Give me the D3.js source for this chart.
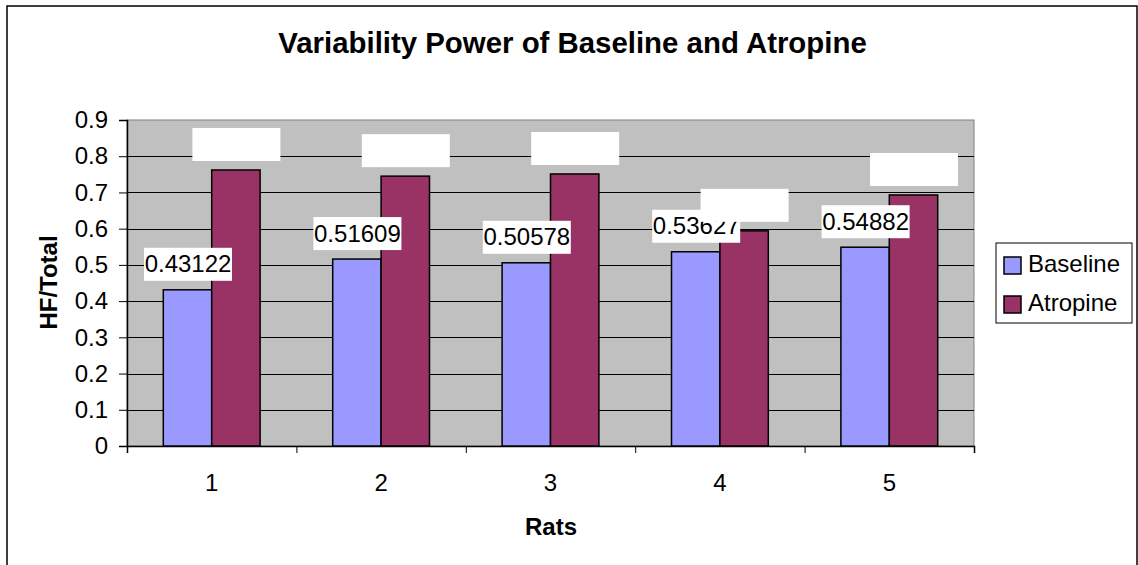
<!DOCTYPE html>
<html>
<head>
<meta charset="utf-8">
<script src="https://cdn.jsdelivr.net/npm/d3@7"></script>
<style>
  body { margin: 0; background: #fff; }
  text { font-family: Arial, "Liberation Sans", sans-serif; fill: #000; }
</style>
</head>
<body>
<div id="chart"></div>
<script>
const categories = ['1', '2', '3', '4', '5'];
const seriesNames = ['Baseline', 'Atropine'];
const baselineValues = [0.43122, 0.51609, 0.50578, 0.53627, 0.54882];
const atropineValues = [0.762, 0.745, 0.751, 0.594, 0.693];
const yTickValues = [0, 0.1, 0.2, 0.3, 0.4, 0.5, 0.6, 0.7, 0.8, 0.9];
const colors = { Baseline: '#9999FF', Atropine: '#993366' };

const W = 1138, H = 565;
const plot = { left: 127, right: 974, top: 120, bottom: 446 };

const svg = d3.select('#chart').append('svg')
    .attr('width', W)
    .attr('height', H);

// outer chart frame
svg.append('rect')
    .attr('x', 7).attr('y', 6)
    .attr('width', 1130).attr('height', 600)
    .attr('fill', '#fff')
    .attr('stroke', '#000')
    .attr('stroke-width', 1.5);

const x = d3.scaleBand()
    .domain(categories)
    .range([plot.left, plot.right])
    .padding(0);

const xSeries = d3.scaleBand()
    .domain(seriesNames)
    .range([0, x.bandwidth()])
    .paddingInner(0)
    .paddingOuter(0.75);

const y = d3.scaleLinear()
    .domain([0, 0.9])
    .range([plot.bottom, plot.top]);

// plot background
svg.append('rect')
    .attr('x', plot.left).attr('y', plot.top)
    .attr('width', plot.right - plot.left)
    .attr('height', plot.bottom - plot.top)
    .attr('fill', '#C0C0C0')
    .attr('stroke', '#808080')
    .attr('stroke-width', 1);

// gridlines
svg.append('g')
    .selectAll('line')
    .data(yTickValues.filter(d => d > 0 && d < 0.9))
    .enter()
    .append('line')
    .attr('x1', plot.left).attr('x2', plot.right)
    .attr('y1', d => Math.round(y(d)) + 0.5)
    .attr('y2', d => Math.round(y(d)) + 0.5)
    .attr('stroke', '#000')
    .attr('stroke-width', 1);

// y axis
const yAxis = svg.append('g')
    .attr('transform', `translate(${plot.left},0)`)
    .call(d3.axisLeft(y)
        .tickValues(yTickValues)
        .tickSize(8)
        .tickPadding(11)
        .tickFormat(d => d === 0 ? '0' : d3.format('.1f')(d)));
yAxis.select('.domain').attr('stroke', '#000').attr('stroke-width', 1.5);
yAxis.selectAll('.tick line').attr('stroke', '#000');
yAxis.selectAll('text')
    .style('font-size', '24px')
    .style('font-family', 'Arial, "Liberation Sans", sans-serif');

// x axis: boundary ticks
const xEdges = d3.scaleLinear().domain([0, categories.length]).range([plot.left, plot.right]);
const xAxis = svg.append('g')
    .attr('transform', `translate(0,${plot.bottom})`)
    .call(d3.axisBottom(xEdges)
        .tickValues(d3.range(categories.length + 1))
        .tickSize(7)
        .tickFormat(''));
xAxis.select('.domain').attr('stroke', '#000').attr('stroke-width', 1.5);
xAxis.selectAll('.tick line').attr('stroke', '#000');

// x axis: category labels
const xLabels = svg.append('g')
    .attr('transform', `translate(0,${plot.bottom})`)
    .call(d3.axisBottom(x).tickSize(0).tickPadding(28));
xLabels.select('.domain').remove();
xLabels.selectAll('text')
    .style('font-size', '24px')
    .style('font-family', 'Arial, "Liberation Sans", sans-serif');

// bars
const rows = categories.map((c, i) => ({
    cat: c,
    vals: [
        { name: 'Baseline', value: baselineValues[i] },
        { name: 'Atropine', value: atropineValues[i] }
    ]
}));

const groups = svg.append('g')
    .selectAll('g')
    .data(rows)
    .enter()
    .append('g')
    .attr('transform', d => `translate(${x(d.cat)},0)`);

groups.selectAll('rect')
    .data(d => d.vals)
    .enter()
    .append('rect')
    .attr('x', d => xSeries(d.name))
    .attr('y', d => y(d.value))
    .attr('width', xSeries.bandwidth())
    .attr('height', d => y(0) - y(d.value))
    .attr('fill', d => colors[d.name])
    .attr('stroke', '#000')
    .attr('stroke-width', 1.5);

// data labels (baseline labels first, atropine label boxes drawn on top)
const boxW = 88, boxH = 33, gap = 9;

const baseLabels = svg.append('g')
    .selectAll('g')
    .data(rows)
    .enter()
    .append('g')
    .attr('transform', d => {
        const cx = x(d.cat) + xSeries('Baseline') + xSeries.bandwidth() / 2 + 0.5;
        return `translate(${cx},${y(d.vals[0].value) - gap})`;
    });
baseLabels.append('rect')
    .attr('x', -boxW / 2).attr('y', -boxH)
    .attr('width', boxW).attr('height', boxH)
    .attr('fill', '#fff');
baseLabels.append('text')
    .attr('x', 0).attr('y', -8.5)
    .attr('text-anchor', 'middle')
    .style('font-size', '24px')
    .text(d => d.vals[0].value);

svg.append('g')
    .selectAll('rect')
    .data(rows)
    .enter()
    .append('rect')
    .attr('x', d => x(d.cat) + xSeries('Atropine') + xSeries.bandwidth() / 2 + 0.5 - boxW / 2)
    .attr('y', d => y(d.vals[1].value) - gap - boxH)
    .attr('width', boxW).attr('height', boxH)
    .attr('fill', '#fff');

// title
svg.append('text')
    .attr('x', 572.5).attr('y', 53)
    .attr('text-anchor', 'middle')
    .style('font-size', '29.4px')
    .style('font-weight', 'bold')
    .text('Variability Power of Baseline and Atropine');

// axis titles
svg.append('text')
    .attr('transform', 'translate(57,282.5) rotate(-90)')
    .attr('text-anchor', 'middle')
    .style('font-size', '24px')
    .style('font-weight', 'bold')
    .text('HF/Total');

svg.append('text')
    .attr('x', 551).attr('y', 535)
    .attr('text-anchor', 'middle')
    .style('font-size', '24px')
    .style('font-weight', 'bold')
    .text('Rats');

// legend
const legend = svg.append('g');
legend.append('rect')
    .attr('x', 996).attr('y', 243)
    .attr('width', 136).attr('height', 80)
    .attr('fill', '#fff')
    .attr('stroke', '#000')
    .attr('stroke-width', 1);

const legendItems = legend.selectAll('g')
    .data(seriesNames)
    .enter()
    .append('g')
    .attr('transform', (d, i) => `translate(1004,${257 + i * 39})`);
legendItems.append('rect')
    .attr('width', 17).attr('height', 17)
    .attr('fill', d => colors[d])
    .attr('stroke', '#000')
    .attr('stroke-width', 1.5);
legendItems.append('text')
    .attr('x', 24).attr('y', 15)
    .style('font-size', '24px')
    .text(d => d);
</script>
</body>
</html>
